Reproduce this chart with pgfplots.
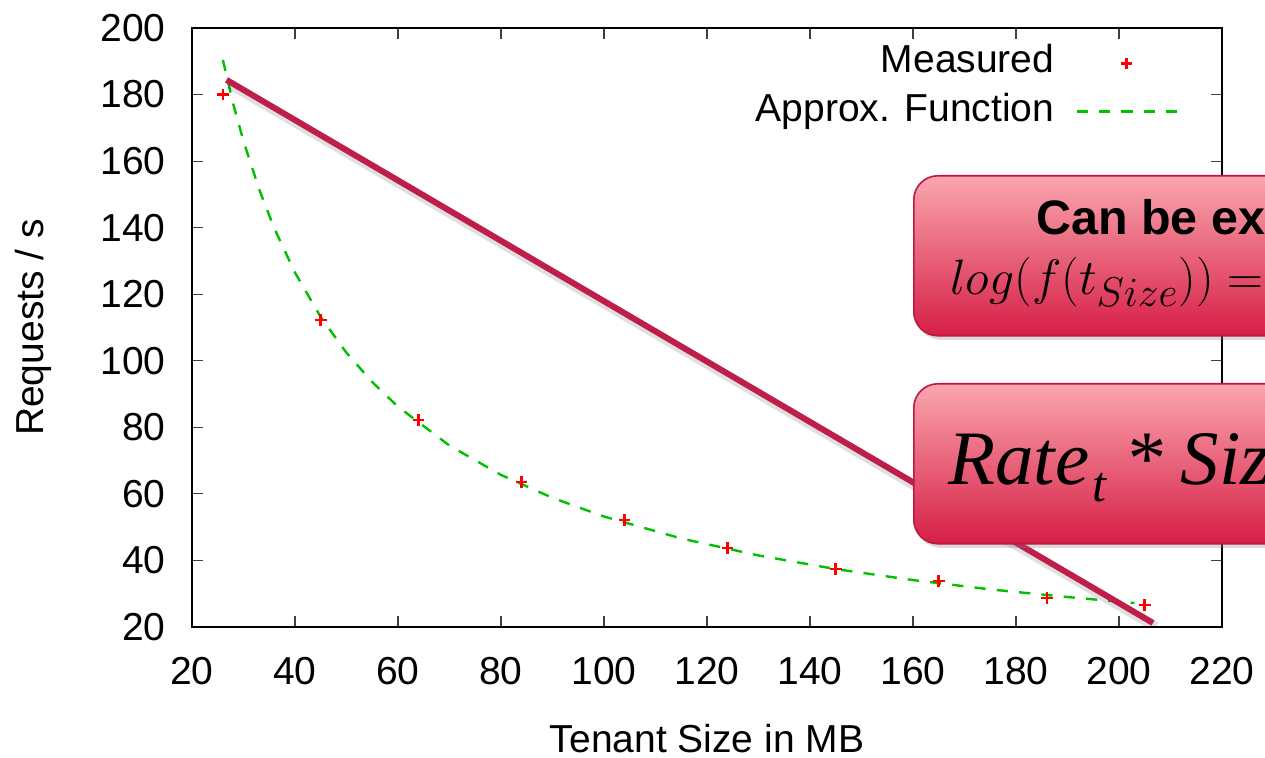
\documentclass[border=0pt]{standalone}
\usepackage{pgfplots}
\pgfplotsset{compat=1.18}
\usepackage{fontspec}
\setmainfont{Liberation Sans}
\newfontfamily\timesfont{Liberation Serif}
\usetikzlibrary{shadows}
\definecolor{crim}{RGB}{192,30,74}
\definecolor{gnugreen}{RGB}{0,192,0}
\definecolor{boxtop}{RGB}{250,166,174}
\definecolor{boxbot}{RGB}{214,30,70}
\definecolor{boxdraw}{RGB}{188,24,64}
\DeclareMathSizes{25.6}{25.6}{21}{17}
\newcommand{\lblfont}{\fontsize{19.5}{23}\selectfont}
\pgfplotsset{
  legmark/.style={legend image code/.code={\draw[##1, mark repeat=2, mark phase=2] plot coordinates {(0pt,-1.8pt)(25pt,-1.8pt)(50pt,-1.8pt)};}},
  legline/.style={legend image code/.code={\draw[##1] (0pt,-1.2pt) -- (50pt,-1.2pt);}},
}
\begin{document}
\begin{tikzpicture}
\useasboundingbox (-96pt,-65.5pt) rectangle (536.5pt,313.5pt);
\clip (-96pt,-65.5pt) rectangle (536.5pt,313.5pt);
\begin{axis}[
  at={(0pt,0pt)}, anchor=south west,
  scale only axis, width=515pt, height=299.5pt,
  xmin=20, xmax=220, ymin=20, ymax=200,
  xtick={20,40,...,220}, ytick={20,40,...,200},
  /pgf/number format/assume math mode=true,
  tick label style={font=\lblfont, inner sep=0pt},
  xticklabel shift=15pt, yticklabel shift=13pt,
  axis line style={line width=0.8pt},
  major tick length=5.5pt,
  major tick style={line width=0.6pt, black!75},
  every axis x label/.style={at={(axis description cs:0.5,-0.186)}, anchor=center, font=\lblfont},
  every axis y label/.style={at={(axis description cs:-0.154,0.5)}, anchor=center, rotate=90, font=\lblfont},
  xlabel={Tenant Size in MB},
  ylabel={Requests / s},
  legend plot pos=right,
  legend cell align=right,
  legend style={draw=none, fill=none, at={(axis description cs:0.957,0.973)}, anchor=north east,
    inner sep=0pt, outer sep=0pt, font=\lblfont, row sep=9pt,
    nodes={inner sep=0pt},
    /tikz/every odd column/.append style={column sep=10.5pt}},
]
\addplot[only marks, mark=+, mark size=2.9pt, red, mark options={line width=1.3pt}, legmark]
  coordinates {(26,180)(45,112.3)(64,82.2)(84,63.6)(104,52.2)(124,43.7)(145,37.4)(165,33.8)(186,28.7)(205,26.6)};
\addlegendentry{Measured}
\addplot[gnugreen, line width=1.2pt, dash pattern=on 5.6pt off 5.6pt, legline]
  coordinates {(26,190.4)(28,177.2)(30,166.0)(33,151.7)(36,139.7)(40,126.5)(45,113.1)(50,102.4)(55,93.6)(60,86.2)(70,74.5)(80,65.7)(90,58.8)(100,53.2)(115,46.6)(130,41.5)(145,37.4)(160,34.1)(175,31.3)(190,29.0)(203,27.2)};
\addlegendentry{Approx. Function}
\addplot[black, opacity=0.12, line width=5pt, forget plot, transform canvas={xshift=1.5pt, yshift=-2pt}]
  coordinates {(26.7,184.4)(206.6,21.2)};
\addplot[crim, line width=3pt, forget plot]
  coordinates {(26.7,184.4)(206.6,21.2)};
\end{axis}
% callout boxes (annotation overlays)
\node[draw=boxdraw, line width=0.8pt, rounded corners=12pt, top color=boxtop, bottom color=boxbot,
  drop shadow={opacity=0.3, shadow xshift=1.5pt, shadow yshift=-2pt},
  minimum width=330pt, minimum height=80pt, anchor=north west, inner sep=0pt] at (360.5pt,226pt) {};
\node[draw=boxdraw, line width=0.8pt, rounded corners=12pt, top color=boxtop, bottom color=boxbot,
  drop shadow={opacity=0.3, shadow xshift=1.5pt, shadow yshift=-2pt},
  minimum width=330pt, minimum height=80pt, anchor=north west, inner sep=0pt] at (360.5pt,122pt) {};
\node[anchor=base west, inner sep=0pt] at (422pt,196pt) {\fontsize{24.2}{28}\selectfont\bfseries Can be expressed as};
\node[anchor=base west, inner sep=0pt] at (379pt,166pt) {\fontsize{25.6}{30}\selectfont $log(f(t_{Size})) = a \cdot log(t_{Size}) + b$};
\node[anchor=base west, inner sep=0pt] at (378pt,71pt) {\timesfont\itshape\fontsize{38.5}{44}\selectfont Rate\hspace{1.5pt}\raisebox{-8.5pt}{\fontsize{25}{28}\selectfont t}\hspace{9pt}*\hspace{9pt}Size\raisebox{-8.5pt}{\fontsize{25}{28}\selectfont t}};
\end{tikzpicture}
\end{document}
